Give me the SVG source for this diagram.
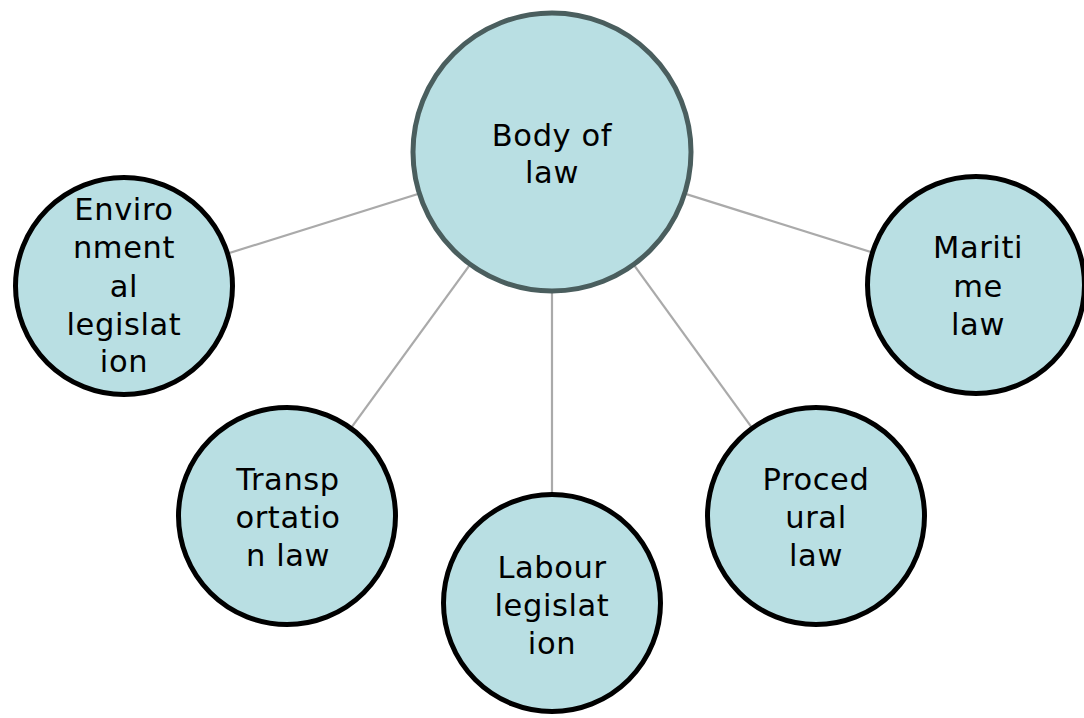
<svg xmlns="http://www.w3.org/2000/svg" width="1084" height="718" viewBox="0 0 1084 718">
<style>
.n{fill:#b9dfe3;stroke:#000;stroke-width:5}
.c{fill:#b9dfe3;stroke:#4a5e5e;stroke-width:5}
.t{font-family:"DejaVu Sans",Verdana,sans-serif;font-size:30.5px;letter-spacing:0.6px;fill:#000;text-anchor:middle}
.e{stroke:#aaaaaa;stroke-width:2.2;fill:none}
</style>
<rect width="1084" height="718" fill="#fff"/>
<g id="connectors">
<line class="e" x1="552" y1="152" x2="124" y2="286"/>
<line class="e" x1="552" y1="152" x2="976" y2="285"/>
<line class="e" x1="552" y1="152" x2="287" y2="516"/>
<line class="e" x1="552" y1="152" x2="552" y2="603"/>
<line class="e" x1="552" y1="152" x2="816" y2="516"/>
</g>
<g id="body-of-law">
<circle class="c" cx="552" cy="152" r="139"/>
<text class="t" x="552" y="146">Body of</text>
<text class="t" x="552" y="183">law</text>
</g>
<g id="environmental">
<circle class="n" cx="124" cy="286" r="108.5"/>
<text class="t" x="124" y="220">Enviro</text>
<text class="t" x="124" y="258">nment</text>
<text class="t" x="124" y="297">al</text>
<text class="t" x="124" y="335">legislat</text>
<text class="t" x="124" y="372">ion</text>
</g>
<g id="maritime">
<circle class="n" cx="976" cy="285" r="108.5"/>
<text class="t" x="978" y="258">Mariti</text>
<text class="t" x="978" y="297">me</text>
<text class="t" x="978" y="335">law</text>
</g>
<g id="transportation">
<circle class="n" cx="287" cy="516" r="108.5"/>
<text class="t" x="288" y="490">Transp</text>
<text class="t" x="288" y="528">ortatio</text>
<text class="t" x="288" y="566">n law</text>
</g>
<g id="labour">
<circle class="n" cx="552" cy="603" r="108.5"/>
<text class="t" x="552" y="578">Labour</text>
<text class="t" x="552" y="616">legislat</text>
<text class="t" x="552" y="654">ion</text>
</g>
<g id="procedural">
<circle class="n" cx="816" cy="516" r="108.5"/>
<text class="t" x="816" y="490">Proced</text>
<text class="t" x="816" y="528">ural</text>
<text class="t" x="816" y="566">law</text>
</g>
</svg>
